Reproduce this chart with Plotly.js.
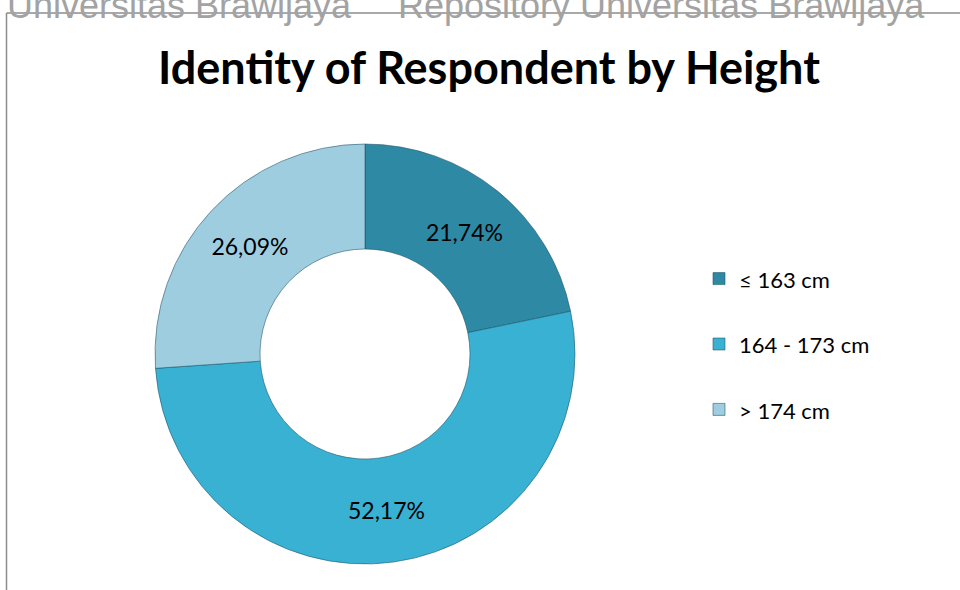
<!DOCTYPE html>
<html>
<head>
<meta charset="utf-8">
<script src="https://cdn.plot.ly/plotly-3.0.1.min.js"></script>
<style>html,body{margin:0;padding:0;background:#fff;}#chart{width:960px;height:590px;}</style>
</head>
<body>
<div id="chart"></div>
<script>
// Data
var categories = ['≤ 163 cm', '164 - 173 cm', '> 174 cm'];
var respondents = [5, 12, 6];           // 21,74% / 52,17% / 26,09%
var sliceColors = ['#2d89a4', '#39b1d3', '#9fcde0'];
var titleText = 'Identity of Respondent by Height';
var watermarkLeft = 'Universitas Brawijaya';
var watermarkRight = 'Repository Universitas Brawijaya';

var W = 960, H = 590;
function px(x) { return x / W; }
function py(y) { return 1 - y / H; }

var cx = 365, cy = 354, r = 210;

// legend labels: a blank second line gives the wide item spacing of the reference
var legendLabels = categories.map(function (c) {
  return '<span style="font-size:22px">' + c + '</span><br>\u00a0';
});

var trace = {
  type: 'pie',
  labels: legendLabels,
  values: respondents,
  hole: 0.5,
  sort: false,
  direction: 'clockwise',
  rotation: 0,
  marker: { colors: sliceColors, line: { color: 'rgba(30,80,100,0.55)', width: 1 } },
  texttemplate: '%{percent:.2%}',
  textposition: 'inside',
  insidetextorientation: 'horizontal',
  textfont: { family: 'Lato, sans-serif', size: 23, color: '#000000' },
  domain: { x: [px(cx - r), px(cx + r)], y: [py(cy + r), py(cy - r)] },
  hoverinfo: 'percent'
};

var layout = {
  width: W, height: H,
  margin: { l: 0, r: 0, t: 0, b: 0 },
  paper_bgcolor: '#ffffff',
  separators: ',.',
  title: {
    text: '<b>' + titleText + '</b>',
    font: { family: 'Lato, sans-serif', size: 45, color: '#000000' },
    x: px(489), xanchor: 'center',
    y: py(68), yanchor: 'middle'
  },
  showlegend: true,
  legend: {
    x: px(699), xanchor: 'left',
    y: py(360), yanchor: 'middle',
    valign: 'top',
    font: { family: 'Lato, sans-serif', size: 24, color: '#000000' },
    bgcolor: 'rgba(0,0,0,0)'
  },
  annotations: [
    { text: watermarkLeft, xref: 'paper', yref: 'paper', x: px(5), y: py(28), xanchor: 'left', yanchor: 'bottom',
      showarrow: false, font: { family: 'Liberation Sans, Arial, sans-serif', size: 36, color: '#a3a3a3' } },
    { text: watermarkRight, xref: 'paper', yref: 'paper', x: px(396), y: py(28), xanchor: 'left', yanchor: 'bottom',
      showarrow: false, font: { family: 'Liberation Sans, Arial, sans-serif', size: 36, color: '#a3a3a3' } }
  ],
  shapes: [
    { type: 'line', xref: 'paper', yref: 'paper', x0: px(6.5), x1: px(6.5), y0: py(13), y1: 0, line: { color: '#8c8c8c', width: 1.5 } },
    { type: 'line', xref: 'paper', yref: 'paper', x0: px(6.5), x1: 1, y0: py(13), y1: py(13), line: { color: '#8c8c8c', width: 1.5 } }
  ]
};

Plotly.newPlot('chart', [trace], layout, { displayModeBar: false, staticPlot: true });
</script>
</body>
</html>
